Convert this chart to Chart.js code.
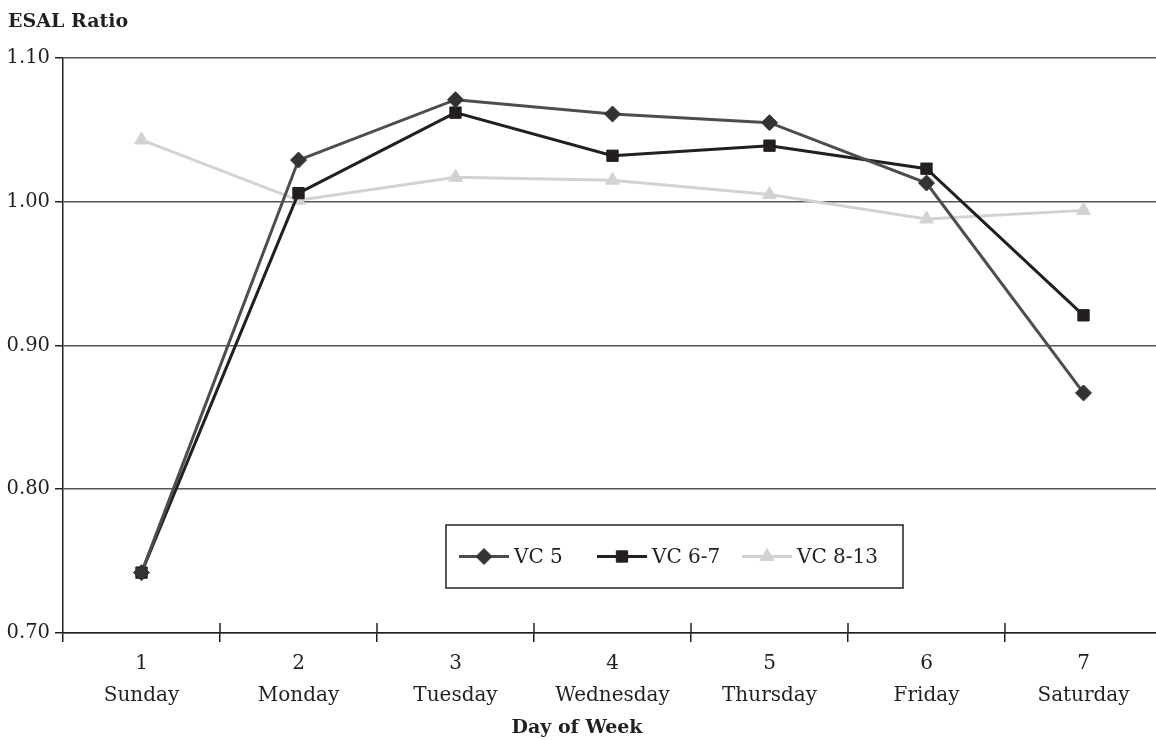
<!DOCTYPE html>
<html>
<head>
<meta charset="utf-8">
<script src="https://cdn.jsdelivr.net/npm/chart.js@4/dist/chart.umd.min.js"></script>
<style>
  html, body { margin: 0; padding: 0; background: #fff; overflow: hidden; }
  #wrap { width: 1171px; height: 740px; }
</style>
</head>
<body>
<div id="wrap"><canvas id="esalChart" width="1171" height="740"></canvas></div>
<script>
// day of week labels
const dayNumbers = ['1', '2', '3', '4', '5', '6', '7'];
const dayNames = ['Sunday', 'Monday', 'Tuesday', 'Wednesday', 'Thursday', 'Friday', 'Saturday'];

// ESAL ratio per vehicle class
const vc5 = [0.742, 1.029, 1.071, 1.061, 1.055, 1.013, 0.867];
const vc67 = [0.742, 1.006, 1.062, 1.032, 1.039, 1.023, 0.921];
const vc813 = [1.043, 1.001, 1.017, 1.015, 1.005, 0.988, 0.994];

const yTicks = [0.70, 0.80, 0.90, 1.00, 1.10];

const serif = "'DejaVu Serif', 'Liberation Serif', serif";
const ink = '#231f20';

// legend box drawn inside the plot, like the original
const insideLegend = {
  id: 'insideLegend',
  afterDraw(chart) {
    const ctx = chart.ctx;
    const box = { x: 446, y: 525, w: 457, h: 63 };
    const items = [
      { ds: 0, x: 459 },
      { ds: 1, x: 597 },
      { ds: 2, x: 742 }
    ];
    ctx.save();
    ctx.fillStyle = '#fff';
    ctx.fillRect(box.x, box.y, box.w, box.h);
    ctx.strokeStyle = ink;
    ctx.lineWidth = 1.5;
    ctx.strokeRect(box.x, box.y, box.w, box.h);
    const cy = box.y + box.h / 2;
    items.forEach(it => {
      const ds = chart.data.datasets[it.ds];
      ctx.strokeStyle = ds.borderColor;
      ctx.lineWidth = ds.borderWidth;
      ctx.beginPath();
      ctx.moveTo(it.x, cy);
      ctx.lineTo(it.x + 50, cy);
      ctx.stroke();
      ctx.fillStyle = ds.pointBackgroundColor;
      ctx.strokeStyle = ds.pointBackgroundColor;
      ctx.lineWidth = 1;
      Chart.helpers.drawPoint(ctx, { pointStyle: ds.pointStyle, radius: ds.pointRadius, borderWidth: 1 }, it.x + 25, cy);
      ctx.fillStyle = ink;
      ctx.font = "20px " + serif;
      ctx.textBaseline = 'middle';
      ctx.textAlign = 'left';
      ctx.fillText(ds.label, it.x + 55, cy + 1);
    });
    ctx.restore();
  }
};

// titles and x tick marks that cross the axis line
const extras = {
  id: 'extras',
  afterDraw(chart) {
    const xs = chart.scales.x;
    const ctx = chart.ctx;
    const bottom = chart.chartArea.bottom;
    const step = (xs.right - xs.left) / dayNumbers.length;
    ctx.save();
    ctx.strokeStyle = ink;
    ctx.lineWidth = 1.5;
    for (let i = 1; i < dayNumbers.length; i++) {
      const x = Math.round(xs.left + step * i);
      ctx.beginPath();
      ctx.moveTo(x, bottom - 10);
      ctx.lineTo(x, bottom);
      ctx.stroke();
    }
    ctx.fillStyle = ink;
    ctx.font = "bold 19px " + serif;
    ctx.textBaseline = 'middle';
    ctx.textAlign = 'left';
    ctx.fillText('ESAL Ratio', 8, 22);
    ctx.textAlign = 'center';
    ctx.fillText('Day of Week', 577, 728);
    ctx.restore();
  }
};

const ctx = document.getElementById('esalChart').getContext('2d');
new Chart(ctx, {
  type: 'line',
  data: {
    labels: dayNumbers.map((n, i) => [n, dayNames[i]]),
    datasets: [
      {
        label: 'VC 5',
        data: vc5,
        borderColor: '#4d4d4d',
        borderWidth: 3,
        pointStyle: 'rectRot',
        pointRadius: 8,
        pointBackgroundColor: '#333333',
        pointBorderColor: '#333333',
        pointBorderWidth: 1,
        tension: 0
      },
      {
        label: 'VC 6-7',
        data: vc67,
        borderColor: ink,
        borderWidth: 3,
        pointStyle: 'rect',
        pointRadius: 8,
        pointBackgroundColor: ink,
        pointBorderColor: ink,
        pointBorderWidth: 1,
        tension: 0
      },
      {
        label: 'VC 8-13',
        data: vc813,
        borderColor: '#d2d2d2',
        borderWidth: 3,
        pointStyle: 'triangle',
        pointRadius: 8,
        pointBackgroundColor: '#d2d2d2',
        pointBorderColor: '#d2d2d2',
        pointBorderWidth: 1,
        tension: 0
      }
    ]
  },
  options: {
    responsive: false,
    animation: false,
    layout: { padding: { left: 0, right: 0, top: 58, bottom: 0 } },
    plugins: {
      legend: { display: false },
      tooltip: { enabled: false },
      title: { display: false }
    },
    scales: {
      x: {
        type: 'category',
        offset: true,
        grid: {
          offset: true,
          drawOnChartArea: false,
          drawTicks: true,
          tickLength: 9,
          color: ink,
          lineWidth: 1.5
        },
        border: { color: ink, width: 1.5 },
        ticks: {
          color: ink,
          font: { family: serif, size: 20, lineHeight: 1.6 },
          padding: 6,
          maxRotation: 0,
          autoSkip: false
        },
        afterFit(scale) { scale.height = 107; }
      },
      y: {
        min: 0.7,
        max: 1.1,
        afterBuildTicks(scale) { scale.ticks = yTicks.map(v => ({ value: v })); },
        grid: {
          color: '#555555',
          lineWidth: 1.5,
          tickLength: 8,
          tickColor: ink
        },
        border: { color: ink, width: 1.5 },
        ticks: {
          color: ink,
          font: { family: serif, size: 19.5 },
          padding: 5,
          callback: v => Number(v).toFixed(2)
        },
        afterFit(scale) { scale.width = 63; }
      }
    }
  },
  plugins: [insideLegend, extras]
});
</script>
</body>
</html>
